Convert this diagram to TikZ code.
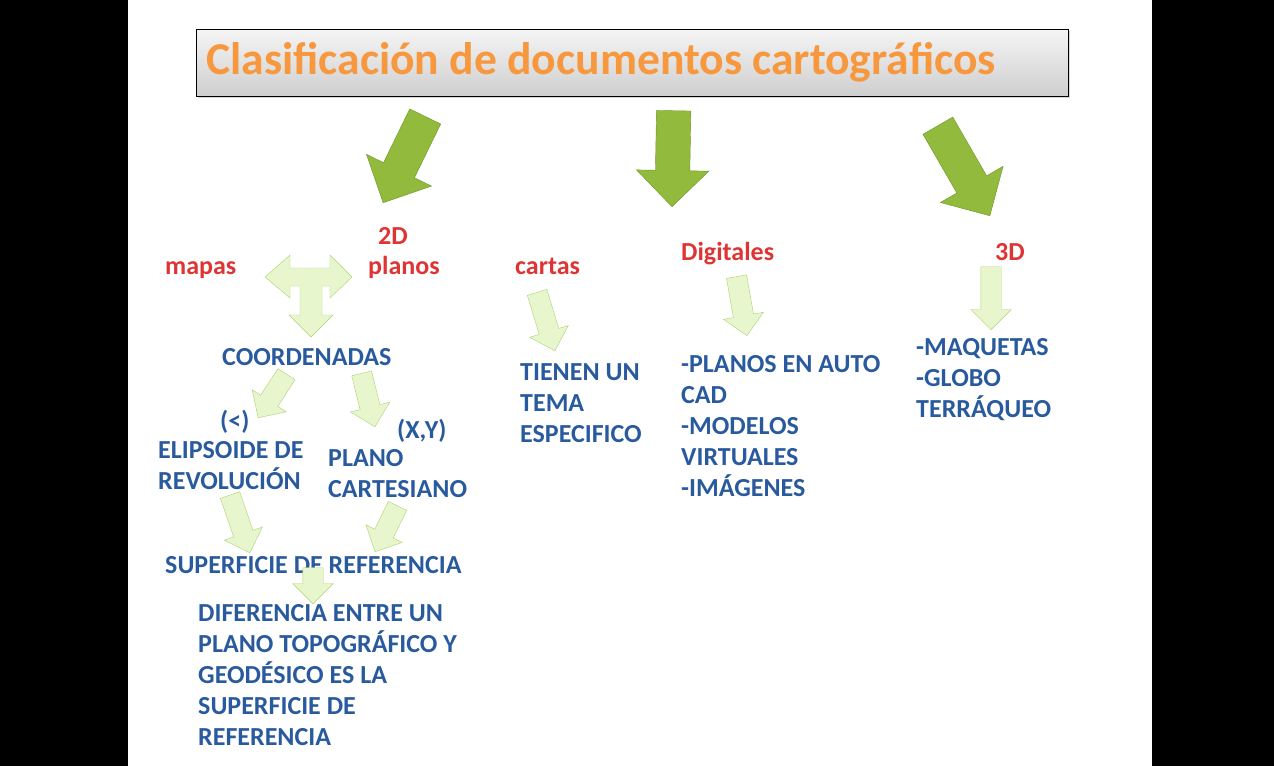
\documentclass[tikz,border=0pt]{standalone}
\usepackage{fontspec}
\setmainfont{Carlito}
\usetikzlibrary{shapes.arrows, shadows}

\definecolor{naranjaT}{RGB}{247,152,62}
\definecolor{rojoE}{RGB}{222,52,52}
\definecolor{azulT}{RGB}{42,90,158}
\definecolor{verdeF}{RGB}{146,187,62}
\definecolor{verdeB}{RGB}{108,148,36}
\definecolor{verdeC}{RGB}{232,246,206}
\definecolor{verdeL}{RGB}{172,210,112}

\tikzset{
  caja/.style = {draw=black, top color=gray!8, bottom color=gray!38, drop shadow={opacity=0.3}, inner sep=0},
  etiqueta/.style = {text=rojoE, font=\bfseries\fontsize{26}{30}\selectfont, inner sep=0, anchor=base west},
  texto/.style = {text=azulT, font=\bfseries\fontsize{26}{31}\selectfont, inner sep=0, anchor=base west, align=left},
  flechon/.style = {single arrow, draw=verdeB, fill=verdeF, minimum height=96, inner xsep=0, inner ysep=17, single arrow head extend=19, anchor=tip},
  flechita/.style = {single arrow, draw=verdeL, fill=verdeC, inner xsep=0, inner ysep=10, single arrow head extend=10, anchor=tip}
}

\begin{document}
\begin{tikzpicture}[x=1pt, y=-1pt]
\useasboundingbox (0,0) rectangle (1274,766);
\fill[black] (0,0) rectangle (128,766);
\fill[black] (1152,0) rectangle (1274,766);

\node[caja, minimum width=872, minimum height=67] (titulo) at (632,62.5) {};
\node[text=naranjaT, font=\bfseries\fontsize{45.6}{50}\selectfont, inner sep=0] (tituloTx) at (601,62) {Clasificación de documentos cartográficos};

\node[flechon, rotate=-116] (g1) at (383,203) {};
\node[flechon, rotate=-91] (g2) at (672,207) {};
\node[flechon, rotate=-60, minimum height=104] (g3) at (990,216) {};

\node[etiqueta] (mapas) at (165,274) {mapas};
\node[etiqueta] (dosD) at (378,244) {2D};
\node[etiqueta] (planos) at (368,274) {planos};
\node[etiqueta] (cartas) at (515,274) {cartas};
\node[etiqueta] (digitales) at (681,260) {Digitales};
\node[etiqueta] (tresD) at (995,260) {3D};

\draw[draw=verdeL, fill=verdeC] (265,277) -- (290,255) -- (290,268) -- (330,268) -- (330,255) -- (352,277)
  -- (330,298) -- (330,286) -- (322,286) -- (322,315) -- (333,315) -- (311,337) -- (289,315)
  -- (300,315) -- (300,286) -- (290,286) -- (290,298) -- cycle;

\node[texto] (coord) at (222,365) {COORDENADAS};
\node[flechita, rotate=-123, minimum height=52] (f1) at (258,418) {};
\node[flechita, rotate=-76, minimum height=55] (f2) at (375,427) {};
\node[texto] (menor) at (220,429) {(<)};
\node[texto] (xy) at (397,438) {(X,Y)};
\node[texto] (elipsoide) at (158,489) {ELIPSOIDE DE\\REVOLUCIÓN};
\node[texto] (cartesiano) at (328,497) {PLANO\\CARTESIANO};
\node[flechita, rotate=-71, minimum height=61] (f3) at (250,553) {};
\node[flechita, rotate=-116, minimum height=51] (f4) at (375,552) {};
\node[texto] (superficie) at (165,573) {SUPERFICIE DE REFERENCIA};
\node[flechita, rotate=-90, minimum height=36] (f5) at (313,604) {};
\node[texto] (diferencia) at (198,745) {DIFERENCIA ENTRE UN\\PLANO TOPOGRÁFICO Y\\GEODÉSICO ES LA\\SUPERFICIE DE\\REFERENCIA};

\node[flechita, rotate=-73, minimum height=61] (f6) at (555,351) {};
\node[texto] (tema) at (520,442) {TIENEN UN\\TEMA\\ESPECIFICO};

\node[flechita, rotate=-80, minimum height=60] (f7) at (747,336) {};
\node[texto] (autocad) at (681,496) {-PLANOS EN AUTO\\CAD\\-MODELOS\\VIRTUALES\\-IMÁGENES};

\node[flechita, rotate=-90, minimum height=63] (f8) at (991,330) {};
\node[texto] (maquetas) at (916,417) {-MAQUETAS\\-GLOBO\\TERRÁQUEO};
\end{tikzpicture}
\end{document}
